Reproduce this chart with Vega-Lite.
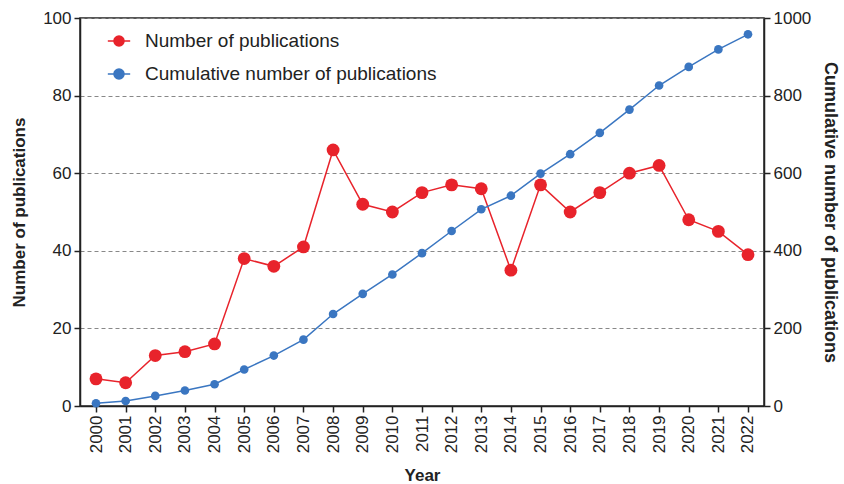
{
  "$schema": "https://vega.github.io/schema/vega-lite/v6.json",
  "width": 684,
  "height": 388,
  "autosize": {"type": "none"},
  "padding": {"left": 80, "top": 18, "right": 80, "bottom": 78},
  "background": "white",
  "config": {
    "font": "Liberation Sans",
    "view": {"stroke": "#222", "strokeWidth": 1.5},
    "axis": {
      "labelFont": "Liberation Sans",
      "labelFontSize": 17,
      "labelColor": "#222",
      "titleFont": "Liberation Sans",
      "titleFontSize": 17,
      "titleFontWeight": "bold",
      "titleColor": "#222",
      "domainColor": "#222",
      "domainWidth": 1.5,
      "tickColor": "#222",
      "tickWidth": 1.5,
      "tickSize": 6,
      "labelPadding": 3
    }
  },
  "data": {
    "values": [
      {"year": "2000", "count": 7, "cumulative": 7},
      {"year": "2001", "count": 6, "cumulative": 13},
      {"year": "2002", "count": 13, "cumulative": 26},
      {"year": "2003", "count": 14, "cumulative": 40},
      {"year": "2004", "count": 16, "cumulative": 56},
      {"year": "2005", "count": 38, "cumulative": 94},
      {"year": "2006", "count": 36, "cumulative": 130},
      {"year": "2007", "count": 41, "cumulative": 171},
      {"year": "2008", "count": 66, "cumulative": 237},
      {"year": "2009", "count": 52, "cumulative": 289},
      {"year": "2010", "count": 50, "cumulative": 339},
      {"year": "2011", "count": 55, "cumulative": 394},
      {"year": "2012", "count": 57, "cumulative": 451},
      {"year": "2013", "count": 56, "cumulative": 507},
      {"year": "2014", "count": 35, "cumulative": 542},
      {"year": "2015", "count": 57, "cumulative": 599},
      {"year": "2016", "count": 50, "cumulative": 649},
      {"year": "2017", "count": 55, "cumulative": 704},
      {"year": "2018", "count": 60, "cumulative": 764},
      {"year": "2019", "count": 62, "cumulative": 826},
      {"year": "2020", "count": 48, "cumulative": 874},
      {"year": "2021", "count": 45, "cumulative": 919},
      {"year": "2022", "count": 39, "cumulative": 958}
    ]
  },
  "encoding": {
    "x": {
      "field": "year",
      "type": "ordinal",
      "scale": {"type": "point", "padding": 0.54},
      "axis": {"title": "Year", "labelAngle": -90, "labelAlign": "right", "labelBaseline": "middle", "titlePadding": 15, "grid": false}
    },
    "color": {
      "type": "nominal",
      "scale": {
        "domain": ["Number of publications", "Cumulative number of publications"],
        "range": ["#e8232b", "#3a76c1"]
      },
      "legend": {
        "title": null,
        "orient": "none",
        "legendX": 27,
        "legendY": 11,
        "labelFontSize": 19,
        "labelFont": "Liberation Sans",
        "labelColor": "#222",
        "labelLimit": 0,
        "symbolType": "M-1,0H-0.45M0.45,0H1M-0.45,0A0.45,0.45 0 1,0 0.45,0A0.45,0.45 0 1,0 -0.45,0Z",
        "symbolSize": 500,
        "symbolStrokeWidth": 1.5,
        "rowPadding": 11,
        "labelOffset": 14
      }
    }
  },
  "layer": [
    {
      "mark": {"type": "line", "strokeWidth": 1.5, "point": {"filled": true, "size": 165}},
      "encoding": {
        "y": {
          "field": "count",
          "type": "quantitative",
          "scale": {"domain": [0, 100], "nice": false},
          "axis": {
            "title": "Number of publications",
            "values": [0, 20, 40, 60, 80, 100],
            "grid": true,
            "gridDash": [4, 3],
            "gridColor": "#888",
            "gridWidth": 1,
            "titlePadding": 14
          }
        },
        "color": {"datum": "Number of publications"}
      }
    },
    {
      "mark": {"type": "line", "strokeWidth": 1.5, "point": {"filled": true, "size": 75}},
      "encoding": {
        "y": {
          "field": "cumulative",
          "type": "quantitative",
          "scale": {"domain": [0, 1000], "nice": false},
          "axis": {
            "title": "Cumulative number of publications",
            "titleFontSize": 18,
            "orient": "right",
            "format": "d",
            "values": [0, 200, 400, 600, 800, 1000],
            "grid": false,
            "titleAngle": 90,
            "titlePadding": 10
          }
        },
        "color": {"datum": "Cumulative number of publications"}
      }
    }
  ],
  "resolve": {"scale": {"y": "independent"}}
}
